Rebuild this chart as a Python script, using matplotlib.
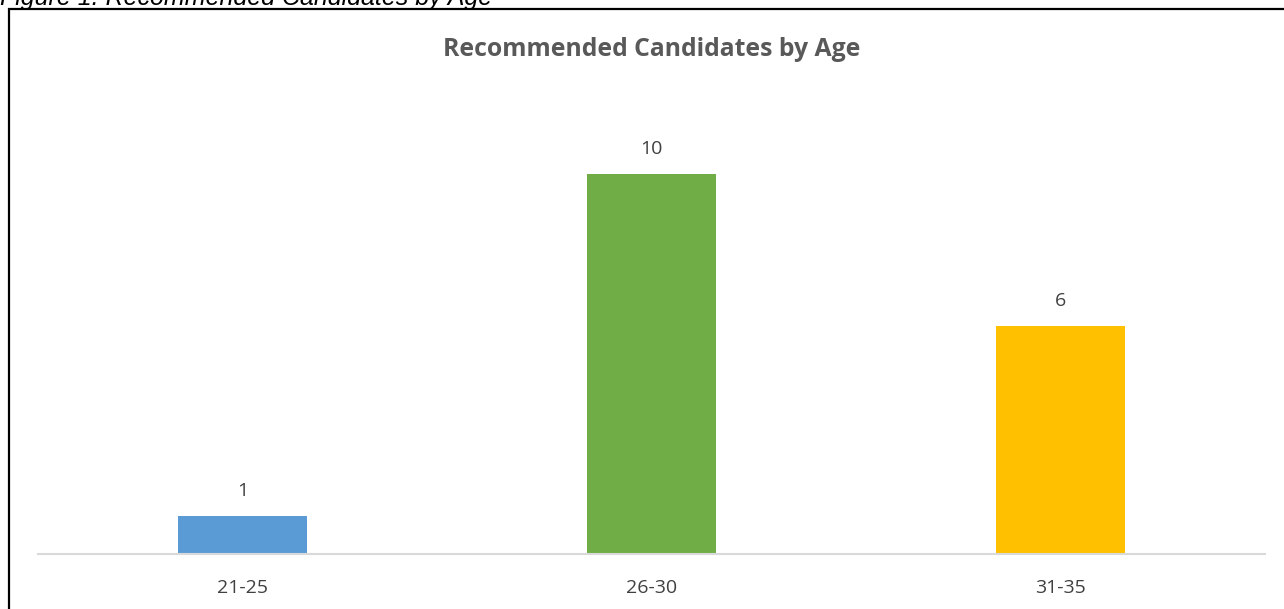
import matplotlib.pyplot as plt
from matplotlib.patches import Rectangle

# data
age_groups = ['21-25', '26-30', '31-35']
candidates = [1, 10, 6]
bar_colors = ['#5B9BD5', '#70AD47', '#FFC000']

W, H = 1284, 609
fig = plt.figure(figsize=(W / 100, H / 100), dpi=100)

# plot area in pixel coordinates
left, right, top, bottom = 38, 1265, 98, 554
ax = fig.add_axes([left / W, (H - bottom) / H, (right - left) / W, (bottom - top) / H])

x = range(len(age_groups))
bars = ax.bar(x, candidates, width=0.315, color=bar_colors, zorder=2)
ax.set_xlim(-0.5, 2.5)
ax.set_ylim(0, 12)

for b, v in zip(bars, candidates):
    ax.annotate(str(v), (b.get_x() + b.get_width() / 2, v), xytext=(0, 25),
                textcoords='offset pixels', ha='center', va='center',
                fontsize=14, color='#404040', family='Open Sans')

ax.set_xticks(list(x))
ax.set_xticklabels(age_groups, fontsize=14, color='#404040', family='Open Sans')
ax.tick_params(axis='x', length=0, pad=18)
ax.set_yticks([])
for s in ['top', 'right', 'left']:
    ax.spines[s].set_visible(False)
ax.spines['bottom'].set_color('#D9D9D9')
ax.spines['bottom'].set_linewidth(1.5)

fig.text(652 / W, 1 - 50 / H, 'Recommended Candidates by Age', ha='center', va='center',
         fontsize=17.8, fontweight='bold', color='#595959', family='Open Sans')

# caption above the chart box, cut off at the top edge
fig.text(0, 1 - 5 / H, 'Figure 1: Recommended Candidates by Age', ha='left', va='baseline',
         fontsize=18, style='italic', color='black', family='Liberation Sans')

# box around the chart
fig.patches.append(Rectangle((8.5 / W, -0.05), 1.2, 1 - 8.5 / H + 0.05, transform=fig.transFigure,
                             fill=False, edgecolor='black', linewidth=1.6))

fig.savefig('out.png', dpi=100)
